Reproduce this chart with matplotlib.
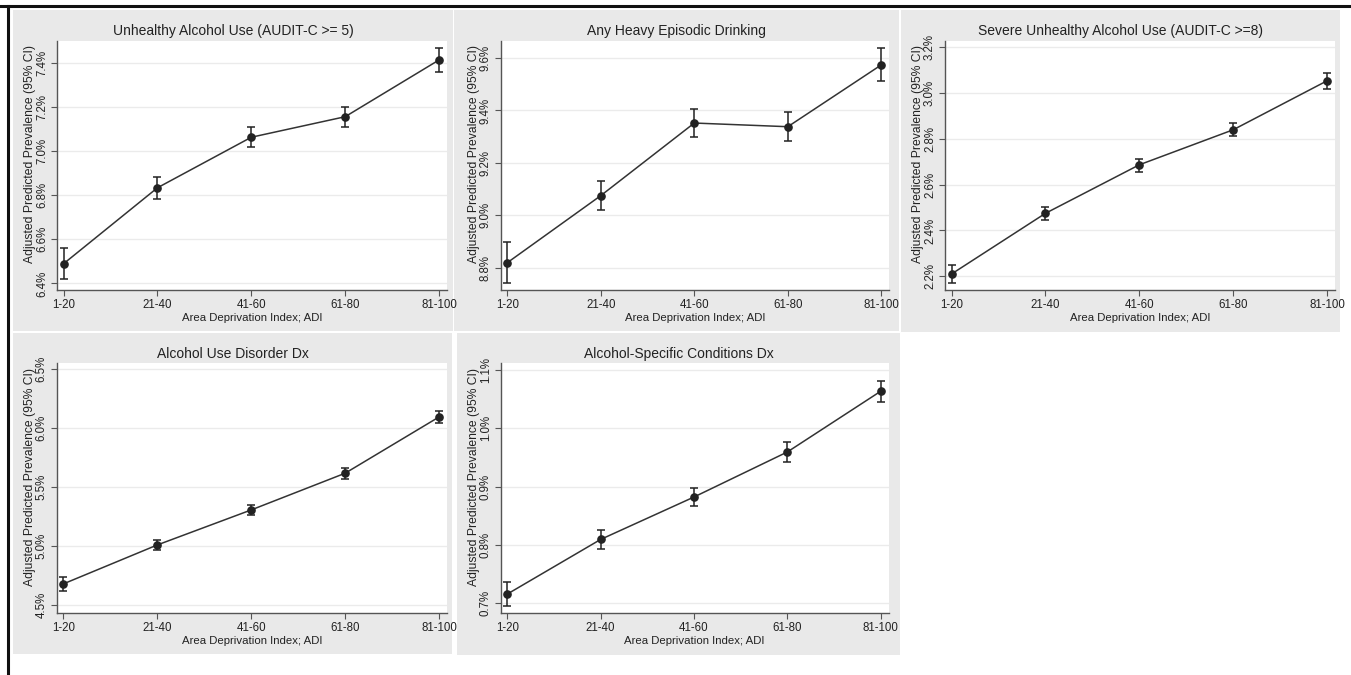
import numpy as np
import matplotlib.pyplot as plt
from matplotlib.patches import Rectangle
from matplotlib.lines import Line2D
from matplotlib.ticker import FuncFormatter

plt.rcParams['font.family'] = ['Liberation Sans', 'DejaVu Sans']

# data (adjusted predicted prevalence, %)
categories = ["1-20", "21-40", "41-60", "61-80", "81-100"]

titles = [
    "Unhealthy Alcohol Use (AUDIT-C >= 5)",
    "Any Heavy Episodic Drinking",
    "Severe Unhealthy Alcohol Use (AUDIT-C >=8)",
    "Alcohol Use Disorder Dx",
    "Alcohol-Specific Conditions Dx",
]

unhealthy_est = [6.489, 6.833, 7.062, 7.155, 7.412]
unhealthy_lo = [6.420, 6.784, 7.017, 7.108, 7.356]
unhealthy_hi = [6.559, 6.880, 7.108, 7.200, 7.468]

heavy_est = [8.819, 9.075, 9.352, 9.338, 9.574]
heavy_lo = [8.741, 9.019, 9.299, 9.283, 9.512]
heavy_hi = [8.897, 9.132, 9.405, 9.395, 9.638]

severe_est = [2.210, 2.475, 2.687, 2.840, 3.054]
severe_lo = [2.171, 2.445, 2.657, 2.813, 3.019]
severe_hi = [2.248, 2.504, 2.712, 2.868, 3.090]

aud_est = [4.681, 5.011, 5.308, 5.619, 6.096]
aud_lo = [4.619, 4.966, 5.263, 5.568, 6.043]
aud_hi = [4.743, 5.056, 5.353, 5.664, 6.147]

ascd_est = [0.715, 0.809, 0.882, 0.9595, 1.064]
ascd_lo = [0.694, 0.792, 0.866, 0.942, 1.045]
ascd_hi = [0.735, 0.825, 0.897, 0.976, 1.082]

series = [
    (unhealthy_est, unhealthy_lo, unhealthy_hi),
    (heavy_est, heavy_lo, heavy_hi),
    (severe_est, severe_lo, severe_hi),
    (aud_est, aud_lo, aud_hi),
    (ascd_est, ascd_lo, ascd_hi),
]

y_limits = [(6.37, 7.498), (8.715, 9.665), (2.14, 3.228), (4.432, 6.551), (0.683, 1.112)]
y_ticks = [
    np.arange(6.4, 7.41, 0.2),
    np.arange(8.8, 9.61, 0.2),
    np.arange(2.2, 3.21, 0.2),
    np.arange(4.5, 6.51, 0.5),
    np.arange(0.7, 1.11, 0.1),
]

# layout in pixels: (panel left, top, right, bottom), (axes left, top, right, bottom)
W, H = 1351, 675
panels = [(13, 10, 453, 331), (454, 10, 899, 331), (901, 10, 1340, 332),
          (13, 333, 452, 654), (457, 333, 900, 655)]
axes_px = [(57, 41, 447, 290), (500.7, 41, 889.3, 290), (945, 41, 1335, 290),
           (56.7, 363.3, 447, 613.3), (500.7, 363.3, 888.7, 612.7)]
title_y = [31, 31, 31, 354, 354]

fig = plt.figure(figsize=(W / 100, H / 100), dpi=100)
fig.patch.set_facecolor('white')

# frame lines at top and left
fig.add_artist(Line2D([0, 1], [1 - 5.5 / H, 1 - 5.5 / H], color='#111111', lw=2.2,
                      transform=fig.transFigure))
fig.add_artist(Line2D([7.5 / W, 7.5 / W], [0, 1 - 5.5 / H], color='#111111', lw=2.2,
                      transform=fig.transFigure))

x = np.arange(1, len(categories) + 1)
dark = '#222222'

for i, (est, lo, hi) in enumerate(series):
    pl, pt, pr, pb = panels[i]
    fig.add_artist(Rectangle((pl / W, 1 - pb / H), (pr - pl) / W, (pb - pt) / H,
                             transform=fig.transFigure, facecolor='#e9e9e9',
                             edgecolor='none', zorder=0))
    al, at, ar, ab = axes_px[i]
    ax = fig.add_axes([al / W, 1 - ab / H, (ar - al) / W, (ab - at) / H])
    ax.set_facecolor('white')

    est = np.array(est)
    yerr = [est - np.array(lo), np.array(hi) - est]
    ax.plot(x, est, color='#333333', lw=1.1, zorder=3)
    ax.errorbar(x, est, yerr=yerr, fmt='o', color=dark, ms=5.2, elinewidth=1.1,
                capsize=3, capthick=1.1, zorder=4)

    ax.set_xlim(0.93, 5.085)
    ax.set_ylim(*y_limits[i])
    ax.set_xticks(x)
    ax.set_xticklabels(categories)
    ax.set_yticks(y_ticks[i])
    ax.yaxis.set_major_formatter(FuncFormatter(lambda v, p: f"{v:.1f}%"))
    ax.grid(axis='y', color='#ebebeb', lw=1)
    ax.set_axisbelow(True)

    for s in ['top', 'right']:
        ax.spines[s].set_visible(False)
    for s in ['left', 'bottom']:
        ax.spines[s].set_color('#555555')
        ax.spines[s].set_linewidth(1)

    ax.tick_params(axis='both', length=4, width=0.8, color='#555555',
                   labelsize=8.3, labelcolor=dark)
    ax.tick_params(axis='x', pad=2.5)
    ax.tick_params(axis='y', pad=2.5)
    for lab in ax.get_yticklabels():
        lab.set_rotation(90)
        lab.set_va('center')

    ax.set_xlabel("Area Deprivation Index; ADI", fontsize=8.2, color=dark, labelpad=1.5)
    ax.set_ylabel("Adjusted Predicted Prevalence (95% CI)", fontsize=8.7, color=dark)
    ax.yaxis.set_label_coords(-0.054, 0.545)

    fig.text((pl + pr) / 2 / W, 1 - title_y[i] / H, titles[i], ha='center',
             va='center', fontsize=10, color=dark)

fig.savefig("out.png", dpi=100)
